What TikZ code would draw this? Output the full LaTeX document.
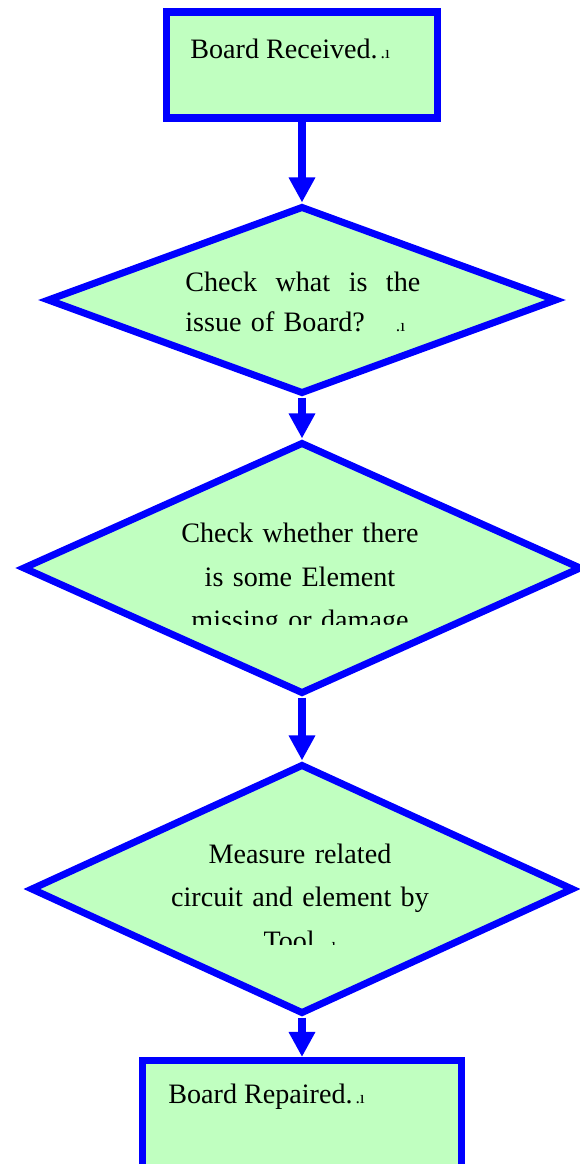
\documentclass[tikz,border=0pt]{standalone}
\usepackage{fontspec}
\setmainfont{Liberation Serif}
\usetikzlibrary{arrows.meta,positioning,shapes.geometric,calc}

\definecolor{flowgreen}{RGB}{192,255,192}
\definecolor{flowblue}{RGB}{0,0,255}
\newcommand{\wordmark}{{\fontsize{10}{10}\selectfont\,.\i}}

\begin{document}
\begin{tikzpicture}[
    box/.style={rectangle, draw=flowblue, fill=flowgreen, line width=4pt, inner sep=0pt},
    decision/.style={diamond, draw=flowblue, fill=flowgreen, line width=4pt, inner sep=0pt},
    txt/.style={font=\fontsize{16}{24.8}\selectfont, inner sep=0pt, anchor=base west},
    arrow/.style={-{Triangle[length=0.5cm, width=0.5cm]}, draw=flowblue, line width=4pt}
]
\useasboundingbox (-6,0) rectangle (5.6,-23.28);

% Start: board received
\node[box, minimum width=5.42cm, minimum height=2.12cm] (recv) at (0.04,-1.3) {};
\node[txt] (recvtext) at (-2.2,-1.16) {Board Received.\wordmark};

% Decision 1: what is the issue
\node[decision, minimum width=10.2cm, minimum height=3.76cm] (issue) at (0.04,-6) {};
\node[txt, text width=4.7cm, font=\fontsize{16}{22.8}\selectfont] (issuetext) at (-2.3,-5.83)
    {Check\hfill what\hfill is\hfill the\\issue of Board?\quad\wordmark};

% Decision 2: missing or damaged element
\node[decision, minimum width=11.18cm, minimum height=5.04cm] (missing) at (0.04,-11.36) {};
\begin{scope}
    \clip (-5,-9) rectangle (5,-12.48);
    \node[txt, text width=5.5cm, align=center, anchor=base] (missingtext) at (0,-10.85)
        {Check whether there\\is some Element\\missing or damage};
\end{scope}

% Decision 3: measure with tool
\node[decision, minimum width=10.86cm, minimum height=5cm] (measure) at (0.04,-17.78) {};
\begin{scope}
    \clip (-5,-15.5) rectangle (5,-18.88);
    \node[txt, text width=5.6cm, align=center, anchor=base] (measuretext) at (0,-17.26)
        {Measure related\\circuit and element by\\Tool \wordmark};
\end{scope}

% End: board repaired
\node[box, minimum width=6.38cm, minimum height=2.3cm] (repaired) at (0.04,-22.36) {};
\node[txt] (repairedtext) at (-2.64,-22.06) {Board Repaired.\wordmark};

% Arrows between steps
\draw[arrow] (recv) -- (issue);
\draw[arrow] (issue) -- (missing);
\draw[arrow] (missing) -- (measure);
\draw[arrow] (measure) -- (repaired);

\end{tikzpicture}
\end{document}
